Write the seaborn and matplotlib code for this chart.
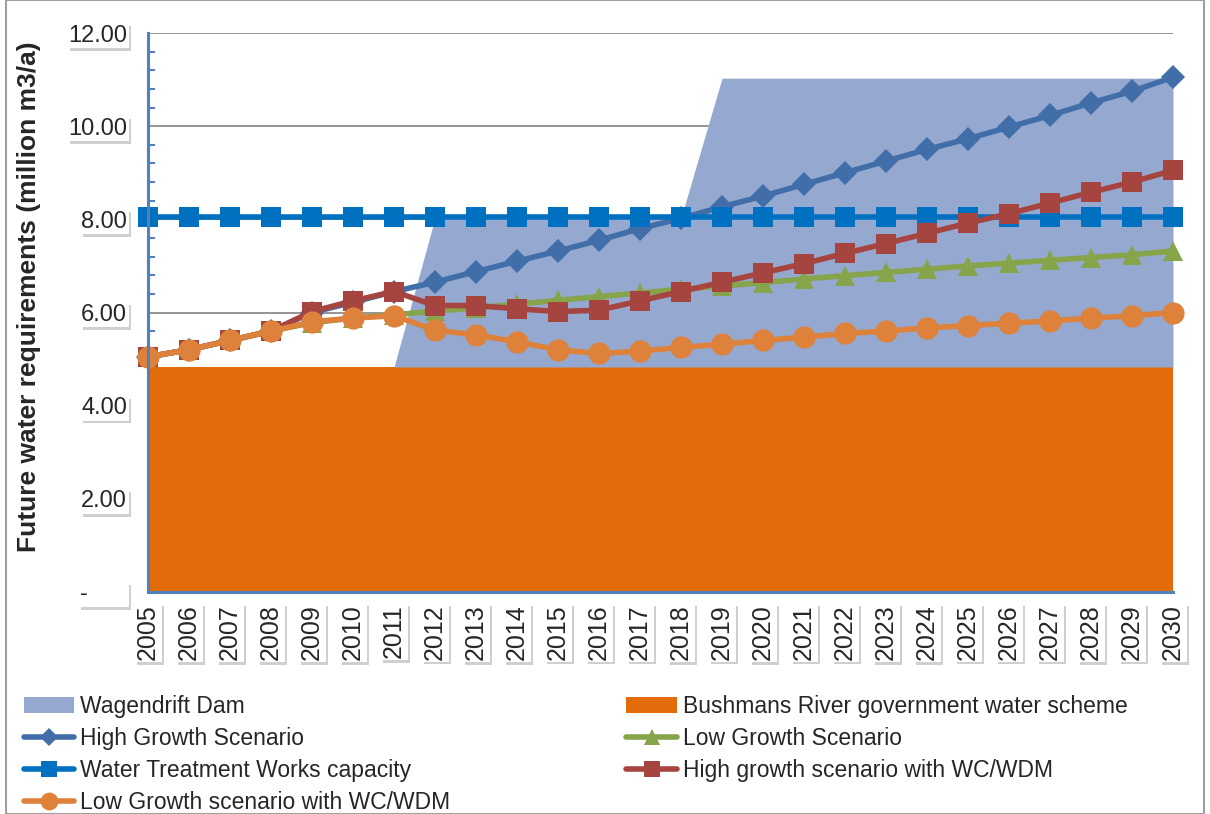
import numpy as np
import pandas as pd
import matplotlib
matplotlib.use("Agg")
import matplotlib.pyplot as plt
import matplotlib.patheffects as pe
from matplotlib.patches import Patch, Rectangle
from matplotlib.lines import Line2D
from matplotlib.ticker import MultipleLocator
import seaborn as sns

# 데이터
years = list(range(2005, 2031))
bushmans = [4.83] * 26
wagendrift_extra = [0.0] * 7 + [3.2] * 7 + [6.2] * 12
high_growth = [5.05, 5.2, 5.4, 5.6, 6.0, 6.22, 6.45, 6.65, 6.88, 7.1, 7.32, 7.55, 7.8,
               8.02, 8.27, 8.5, 8.75, 9.0, 9.25, 9.5, 9.73, 9.98, 10.23, 10.5, 10.75, 11.05]
low_growth = [5.05, 5.2, 5.4, 5.6, 5.78, 5.88, 5.95, 6.03, 6.1, 6.18, 6.26, 6.34, 6.42,
              6.5, 6.57, 6.64, 6.72, 6.79, 6.86, 6.93, 7.0, 7.06, 7.12, 7.18, 7.24, 7.32]
wtw_capacity = [8.05] * 26
high_wcwdm = [5.05, 5.2, 5.4, 5.6, 6.02, 6.25, 6.45, 6.15, 6.15, 6.08, 6.02, 6.05, 6.25,
              6.45, 6.65, 6.85, 7.05, 7.27, 7.48, 7.7, 7.92, 8.12, 8.35, 8.58, 8.8, 9.05]
low_wcwdm = [5.05, 5.2, 5.4, 5.6, 5.8, 5.88, 5.93, 5.62, 5.52, 5.37, 5.2, 5.12, 5.17,
             5.25, 5.32, 5.4, 5.47, 5.55, 5.6, 5.67, 5.72, 5.77, 5.82, 5.88, 5.93, 6.0]
ytick_vals = [0, 2, 4, 6, 8, 10, 12]
ytick_labels = ["-      ", "2.00", "4.00", "6.00", "8.00", "10.00", "12.00"]

df = pd.DataFrame({
    "year": years,
    "High Growth Scenario": high_growth,
    "Low Growth Scenario": low_growth,
    "Water Treatment Works capacity": wtw_capacity,
    "High growth scenario with WC/WDM": high_wcwdm,
    "Low Growth scenario with WC/WDM": low_wcwdm,
})

sns.set_style("white")
plt.rcParams["font.family"] = ["Liberation Sans", "DejaVu Sans"]

fig = plt.figure(figsize=(12.1, 8.14), dpi=100)
ax = fig.add_axes([148 / 1210, 1 - 592 / 814, (1173 - 148) / 1210, (592 - 33) / 814])

# 면적 (누적)
ax.stackplot(years, bushmans, wagendrift_extra,
             colors=["#E36C0A", "#95A9D0"], zorder=2, linewidth=0)

styles = [
    ("High Growth Scenario", "#416EA8", "D", 12),
    ("Low Growth Scenario", "#86A44A", "^", 14),
    ("Water Treatment Works capacity", "#0070C0", "s", 14),
    ("High growth scenario with WC/WDM", "#A64440", "s", 15),
    ("Low Growth scenario with WC/WDM", "#DE813A", "o", 16),
]
for i, (name, color, mk, ms) in enumerate(styles):
    sns.lineplot(data=df, x="year", y=name, ax=ax, color=color, marker=mk,
                 markersize=ms, markeredgewidth=0, linewidth=4, clip_on=False,
                 zorder=3 + i)

ax.set_xlim(2005, 2030)
ax.set_ylim(0, 12)
ax.set_yticks(ytick_vals)
ax.set_yticklabels(ytick_labels)
ax.set_xticks(years)
ax.set_xticklabels([str(y) for y in years], rotation=90)
ax.yaxis.set_minor_locator(MultipleLocator(0.4))
ax.xaxis.set_minor_locator(MultipleLocator(0.5))
ax.yaxis.grid(True, color="#8C8C8C", linewidth=1.3, zorder=1)
ax.set_axisbelow(True)
ax.set_xlabel("")
ax.set_ylabel("Future water requirements (million m3/a)", fontsize=19,
              fontweight="bold")
ax.yaxis.set_label_coords(-0.104, 0.528)

for s in ["top", "right"]:
    ax.spines[s].set_visible(False)
for s in ["left", "bottom"]:
    ax.spines[s].set_color("#4F81BD")
    ax.spines[s].set_linewidth(2.2)
    ax.spines[s].set_zorder(10)

ax.tick_params(axis="y", which="major", direction="inout", length=10, width=2,
               color="#4F81BD", labelsize=17, pad=10)
ax.tick_params(axis="y", which="minor", direction="in", length=5, width=1.5,
               color="#4F81BD", left=True)
ax.tick_params(axis="x", which="major", direction="out", length=6, width=2,
               color="#4F81BD", labelsize=18, pad=3)
ax.tick_params(axis="x", which="minor", direction="in", length=5, width=1.5,
               color="#4F81BD", bottom=True)

# 라벨 그림자
for lab in ax.get_xticklabels() + ax.get_yticklabels():
    lab.set_bbox(dict(facecolor="white", edgecolor="none", pad=1))
    lab.get_bbox_patch().set_path_effects(
        [pe.SimplePatchShadow(offset=(2, -2), shadow_rgbFace="#777777", alpha=0.35),
         pe.Normal()])

# 범례
def lh(color, mk, ms):
    return Line2D([0], [0], color=color, marker=mk, markersize=ms * 0.8,
                  markeredgewidth=0, linewidth=4)

h_wag = Patch(facecolor="#95A9D0", edgecolor="none")
h_bush = Patch(facecolor="#E36C0A", edgecolor="none")
hs = [lh(c, m, s) for _, c, m, s in styles]
handles = [h_wag, hs[0], hs[2], hs[4], h_bush, hs[1], hs[3]]
labels = ["Wagendrift Dam", "High Growth Scenario", "Water Treatment Works capacity",
          "Low Growth scenario with WC/WDM", "Bushmans River government water scheme",
          "Low Growth Scenario", "High growth scenario with WC/WDM"]
fig.legend(handles, labels, ncol=2, loc="upper left", bbox_to_anchor=(0.012, 0.158),
           frameon=False, fontsize=16.5, handlelength=2.2, handletextpad=0.25,
           columnspacing=7.7, labelspacing=0.4, borderaxespad=0)

# 테두리
fig.patches.append(Rectangle((6 / 1210, 0), 1 - 12 / 1210, 1, transform=fig.transFigure,
                             fill=False, edgecolor="#A0A0A0", linewidth=1.5))

plt.savefig("out.png", dpi=100)
